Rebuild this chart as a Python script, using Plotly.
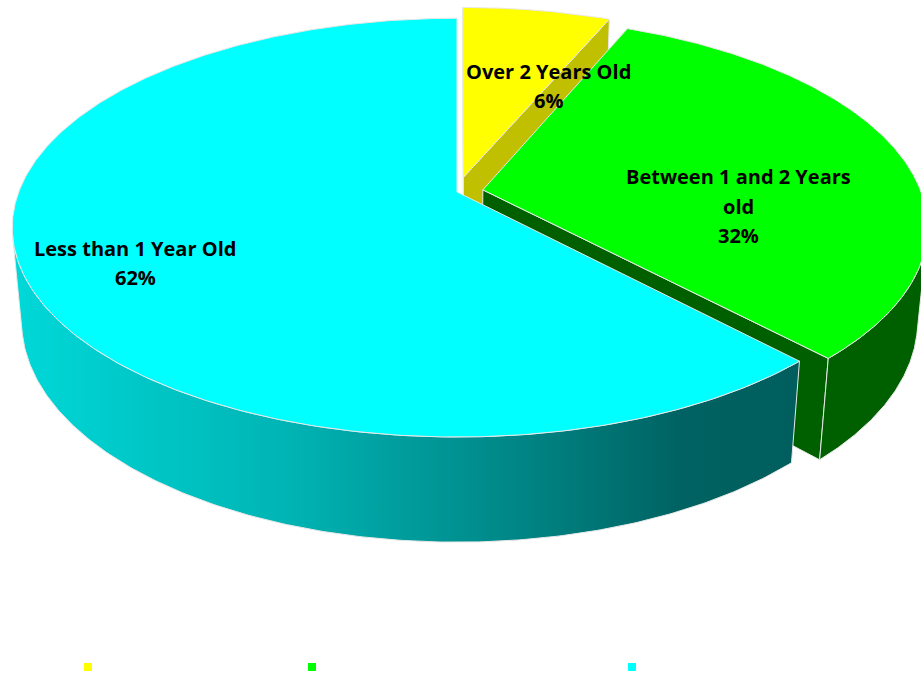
import math
import textwrap
import numpy as np
import plotly.graph_objects as go

# ---------------- data ----------------
categories = ["Over 2 Years Old", "Between 1 and 2 Years old", "Less than 1 Year Old"]
shares = [6.4, 31.6, 62.0]

# ---------------- style ----------------
top_colors = ["#FFFF00", "#00FF00", "#00FFFF"]
side_colors = ["#C0C000", "#006000", "#00A0A0"]
side_gradient = [None, None, [[0, "#00D8D8"], [0.35, "#00B4B4"], [0.7, "#007C7C"], [0.85, "#006262"], [1, "#005E5E"]]]
explode = [0.075, 0.06, 0.0]
edge_color = "#E8E8E8"
W, H = 921, 677

# perspective camera (pie radius = 1, top face at y = 0)
D = 5.23
SA = 0.457
CA = math.sqrt(1 - SA * SA)
SCALE = 2327.0
XSCALE = SCALE * 0.985
X0, Y0 = 457.0, 192.0
THICK = 0.239
CAM = np.array([0.0, D * SA, D * CA])

label_centers = [(548, 86), (738, 206), (135, 263)]
line_gap = 29.5
label_font = dict(family="'Open Sans', sans-serif", size=20, color="black")

legend_symbol_x = [88, 312, 632]   # pixel x of each legend swatch
legend_symbol_y = 667


def project(p):
    x, y, z = p
    depth = D - y * SA - z * CA
    return X0 + XSCALE * x / depth, Y0 - SCALE * (y * CA - z * SA) / depth, depth


def direction(phi):
    return np.array([math.sin(phi), 0.0, -math.cos(phi)])


total = float(sum(shares))
bounds = np.concatenate([[0.0], np.cumsum(shares)]) / total * 2 * math.pi

tops, sides = [], []
for i in range(len(shares)):
    p1, p2 = bounds[i], bounds[i + 1]
    mid = 0.5 * (p1 + p2)
    off = explode[i] * direction(mid)
    phis = np.linspace(p1, p2, 400)

    def rim(phi, y):
        return off + direction(phi) + np.array([0.0, y, 0.0])

    tip_t = off.copy()
    tip_b = off + np.array([0.0, -THICK, 0.0])

    # top face
    pts = [tip_t] + [rim(ph, 0.0) for ph in phis] + [tip_t]
    tops.append((i, pts))

    # radial faces
    for ph, sgn in ((p1, -1), (p2, 1)):
        n = direction(ph + sgn * math.pi / 2)
        if np.dot(n, CAM - tip_t) > 1e-6:
            quad = [tip_t, rim(ph, 0.0), rim(ph, -THICK), tip_b, tip_t]
            sides.append((i, quad, False))

    # outer wall (visible part)
    vis = [np.dot(direction(ph), CAM - rim(ph, -THICK / 2)) > 0 for ph in phis]
    seg = []
    segments = []
    for ph, v in zip(phis, vis):
        if v:
            seg.append(ph)
        elif seg:
            segments.append(seg)
            seg = []
    if seg:
        segments.append(seg)
    for sg in segments:
        wall = [rim(ph, 0.0) for ph in sg] + [rim(ph, -THICK) for ph in sg[::-1]]
        wall.append(wall[0])
        sides.append((i, wall, True))


def mean_depth(pts):
    return np.mean([project(p)[2] for p in pts])


sides.sort(key=lambda s: -mean_depth(s[1]))

fig = go.Figure()

for i, pts, is_wall in sides:
    xy = [project(p) for p in pts]
    kw = dict(
        x=[q[0] for q in xy], y=[q[1] for q in xy], mode="lines", fill="toself",
        line=dict(color=edge_color, width=1), hoverinfo="skip", showlegend=False,
    )
    if is_wall and side_gradient[i] is not None:
        kw["fillgradient"] = dict(type="horizontal", colorscale=side_gradient[i])
    else:
        kw["fillcolor"] = side_colors[i]
    fig.add_trace(go.Scatter(**kw))

for i, pts in tops:
    xy = [project(p) for p in pts]
    fig.add_trace(go.Scatter(
        x=[q[0] for q in xy], y=[q[1] for q in xy], mode="lines", fill="toself",
        fillcolor=top_colors[i], line=dict(color=edge_color, width=1),
        hoverinfo="skip", showlegend=False,
    ))

# legend entries (text rendered white as in the reference), one legend box per entry
legend_ids = ["legend", "legend2", "legend3"]
legend_layout = {}
for i, name in enumerate(categories):
    fig.add_trace(go.Scatter(
        x=[None], y=[None], mode="markers", name=name, legend=legend_ids[i],
        marker=dict(symbol="square", size=8, color=top_colors[i]),
    ))
    legend_layout[legend_ids[i]] = dict(
        x=(legend_symbol_x[i] - 20) / W, y=(H - legend_symbol_y) / H,
        xanchor="left", yanchor="middle",
        font=dict(family="Lato, sans-serif", size=10, color="white"),
        bgcolor="rgba(0,0,0,0)", itemclick=False, itemdoubleclick=False,
    )

# data labels
for i, name in enumerate(categories):
    pct = f"{shares[i] / total * 100:.0f}%"
    lines = textwrap.wrap(name, 21) + [pct]
    cx, cy = label_centers[i]
    n = len(lines)
    for k, ln in enumerate(lines):
        fig.add_annotation(
            x=cx, y=cy + (k - (n - 1) / 2) * line_gap, xref="x", yref="y",
            text=f"<b>{ln}</b>", showarrow=False, font=label_font,
            xanchor="center", yanchor="middle",
        )

fig.update_layout(
    width=W, height=H,
    margin=dict(l=0, r=0, t=0, b=0, autoexpand=False),
    paper_bgcolor="white", plot_bgcolor="white",
    xaxis=dict(range=[0, W], visible=False, fixedrange=True),
    yaxis=dict(range=[H, 0], visible=False, fixedrange=True),
    showlegend=True,
    **legend_layout,
)

fig.write_html("out.html")
